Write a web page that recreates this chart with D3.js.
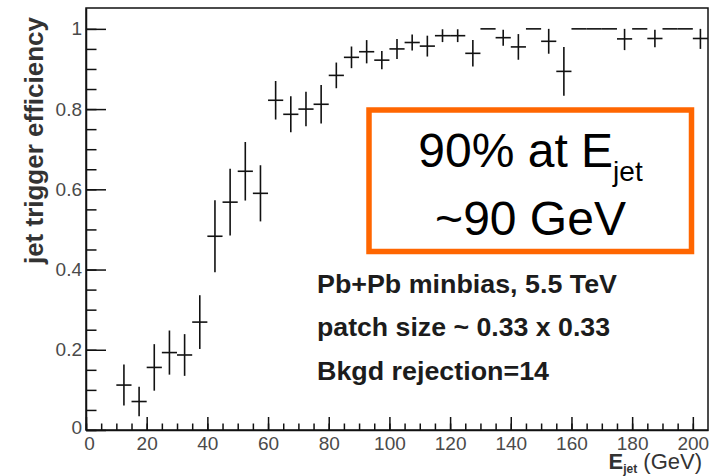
<!DOCTYPE html>
<html>
<head>
<meta charset="utf-8">
<script src="https://cdn.jsdelivr.net/npm/d3@7"></script>
<style>
  body { margin: 0; background: #fff; }
  svg { display: block; font-family: "Liberation Sans", Arial, sans-serif; }
</style>
</head>
<body>
<script>
// bin centres (GeV), 5 GeV wide bins
var binCenters = [12.5, 17.5, 22.5, 27.5, 32.5, 37.5, 42.5, 47.5, 52.5, 57.5,
  62.5, 67.5, 72.5, 77.5, 82.5, 87.5, 92.5, 97.5, 102.5, 107.5,
  112.5, 117.5, 122.5, 127.5, 132.5, 137.5, 142.5, 147.5, 152.5, 157.5,
  162.5, 167.5, 172.5, 177.5, 182.5, 187.5, 192.5, 197.5, 202.5];
var efficiency = [0.112, 0.071, 0.156, 0.193, 0.187, 0.269, 0.483, 0.568, 0.645, 0.590,
  0.822, 0.787, 0.800, 0.812, 0.884, 0.929, 0.943, 0.922, 0.950, 0.966,
  0.957, 0.983, 0.983, 0.939, 1.0, 0.978, 0.955, 1.0, 0.969, 0.894,
  1.0, 1.0, 1.0, 0.975, 1.0, 0.976, 1.0, 1.0, 0.976];
var effError = [0.051, 0.037, 0.058, 0.055, 0.052, 0.067, 0.090, 0.083, 0.073, 0.070,
  0.048, 0.045, 0.043, 0.048, 0.032, 0.027, 0.029, 0.023, 0.025, 0.020,
  0.026, 0.016, 0.016, 0.033, 0, 0.020, 0.032, 0, 0.031, 0.061,
  0, 0, 0, 0.028, 0, 0.022, 0, 0, 0.026];
var binWidth = 5;

var xMajorTicks = [0, 20, 40, 60, 80, 100, 120, 140, 160, 180, 200];
var xTickLabels = ["0", "20", "40", "60", "80", "100", "120", "140", "160", "180", "200"];
var yMajorTicks = [0, 0.2, 0.4, 0.6, 0.8, 1];
var yTickLabels = ["0", "0.2", "0.4", "0.6", "0.8", "1"];

var statLines = ["Pb+Pb minbias, 5.5 TeV", "patch size ~ 0.33 x 0.33", "Bkgd rejection=14"];

var W = 713, H = 476;
var margin = {top: 8, left: 86, bottom: 46, right: 5};
var width = W - margin.left - margin.right;
var height = H - margin.top - margin.bottom;

var svg = d3.select("body").append("svg")
  .attr("width", W)
  .attr("height", H);

var g = svg.append("g")
  .attr("transform", "translate(" + margin.left + "," + margin.top + ")");

var x = d3.scaleLinear().domain([0, 205]).range([0, width]);
var y = d3.scaleLinear().domain([0, 1.052]).range([height, 0]);

var ink = "#111";

// frame
g.append("rect")
  .attr("width", width)
  .attr("height", height)
  .attr("fill", "none")
  .attr("stroke", ink)
  .attr("stroke-width", 1.5);

// minor ticks
var xMinor = d3.range(0, 205, 5);
var yMinor = d3.range(0, 1.05, 0.05);

g.append("g")
  .attr("transform", "translate(0," + height + ")")
  .call(d3.axisBottom(x).tickValues(xMinor).tickSize(-6.5).tickFormat(""))
  .call(function(a) { a.select(".domain").remove(); });

g.append("g")
  .call(d3.axisLeft(y).tickValues(yMinor).tickSize(-10.5).tickFormat(""))
  .call(function(a) { a.select(".domain").remove(); });

// major ticks + labels
var xAxis = g.append("g")
  .attr("transform", "translate(0," + height + ")")
  .call(d3.axisBottom(x).tickValues(xMajorTicks).tickSizeInner(-13).tickSizeOuter(0)
    .tickPadding(5)
    .tickFormat(function(d, i) { return xTickLabels[i]; }));

var yAxis = g.append("g")
  .call(d3.axisLeft(y).tickValues(yMajorTicks).tickSizeInner(-20).tickSizeOuter(0)
    .tickPadding(4)
    .tickFormat(function(d, i) { return yTickLabels[i]; }));

[xAxis, yAxis].forEach(function(a) {
  a.selectAll("line").attr("stroke", ink).attr("stroke-width", 1.5);
  a.select(".domain").attr("stroke", ink).attr("stroke-width", 1.5);
  a.selectAll("text")
    .attr("fill", "#4a4a4a")
    .style("font-size", "19px")
    .style("font-family", "'Liberation Sans', Arial, sans-serif");
});
g.selectAll(".tick line").attr("stroke", ink).attr("stroke-width", 1.5);
xAxis.selectAll("text").attr("dy", "0.95em").attr("transform", "translate(0,-3)");
xAxis.selectAll(".tick").filter(function(d) { return d === 0; })
  .select("text").attr("dx", "3");
yAxis.selectAll(".tick").filter(function(d) { return d === 0; })
  .select("text").attr("dy", "0.2em");

// data: error crosses
var pts = binCenters.map(function(c, i) {
  return {c: c, v: efficiency[i], e: effError[i]};
});

var marks = g.append("g")
  .attr("stroke", ink)
  .attr("stroke-width", 1.6);

marks.selectAll("line.h")
  .data(pts)
  .enter().append("line")
  .attr("class", "h")
  .attr("x1", function(d) { return x(d.c - binWidth / 2); })
  .attr("x2", function(d) { return x(Math.min(d.c + binWidth / 2, 205)); })
  .attr("y1", function(d) { return y(d.v); })
  .attr("y2", function(d) { return y(d.v); });

marks.selectAll("line.v")
  .data(pts.filter(function(d) { return d.e > 0; }))
  .enter().append("line")
  .attr("class", "v")
  .attr("x1", function(d) { return x(d.c); })
  .attr("x2", function(d) { return x(d.c); })
  .attr("y1", function(d) { return y(Math.min(d.v + d.e, 1)); })
  .attr("y2", function(d) { return y(d.v - d.e); });

// stats text
g.append("g")
  .selectAll("text")
  .data(statLines)
  .enter().append("text")
  .attr("x", 231)
  .attr("y", function(d, i) { return [285, 328, 372][i]; })
  .attr("fill", "#1c1c1c")
  .style("font-size", "25px")
  .style("font-weight", "bold")
  .attr("textLength", function(d, i) { return [300, 293, 232][i]; })
  .attr("lengthAdjust", "spacingAndGlyphs")
  .text(function(d) { return d; });

// orange annotation box
svg.append("rect")
  .attr("x", 369)
  .attr("y", 110)
  .attr("width", 322.5)
  .attr("height", 141.5)
  .attr("fill", "#fff")
  .attr("stroke", "#ff6600")
  .attr("stroke-width", 5.5);

var t1 = svg.append("text")
  .attr("x", 530.5)
  .attr("y", 167)
  .attr("text-anchor", "middle")
  .attr("fill", "#000")
  .style("font-size", "48px");
t1.append("tspan").text("90% at E");
t1.append("tspan").attr("dy", 14).style("font-size", "28px").text("jet");

svg.append("text")
  .attr("x", 530.5)
  .attr("y", 235)
  .attr("text-anchor", "middle")
  .attr("fill", "#000")
  .style("font-size", "48px")
  .text("~90 GeV");

// axis titles
var xt = svg.append("text")
  .attr("x", 702)
  .attr("y", 469)
  .attr("text-anchor", "end")
  .attr("fill", "#333")
  .style("font-size", "22px");
xt.append("tspan").style("font-weight", "bold").text("E");
xt.append("tspan").attr("dy", 4).style("font-size", "12px").style("font-weight", "bold").text("jet");
xt.append("tspan").attr("dy", -4).text(" (GeV)");

svg.append("text")
  .attr("transform", "translate(43,17) rotate(-90)")
  .attr("text-anchor", "end")
  .attr("fill", "#333")
  .style("font-size", "26px")
  .style("font-weight", "bold")
  .text("jet trigger efficiency");
</script>
</body>
</html>
